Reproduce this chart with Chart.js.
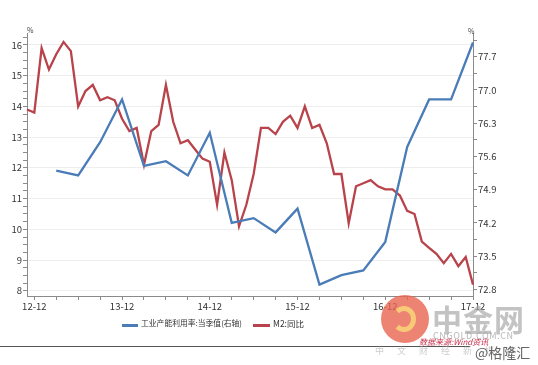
<!DOCTYPE html>
<html>
<head>
<meta charset="utf-8">
<script src="https://cdn.jsdelivr.net/npm/chart.js@4.4.1/dist/chart.umd.min.js"></script>
<style>
  body { margin: 0; background: #fff; }
  #wrap { position: relative; width: 538px; height: 365px; overflow: hidden; font-family: "Noto Sans CJK SC", "Noto Sans", sans-serif; }
  canvas { position: absolute; left: 0; top: 0; }
  .abs { position: absolute; white-space: nowrap; }
  .swatch { position: absolute; height: 2.5px; }
</style>
</head>
<body>
<div id="wrap">
  <canvas id="js--chart--1" width="538" height="365"></canvas>

  <div class="abs" style="left:27px;top:25px;font-size:7px;color:#444;">%</div>
  <div class="abs" style="left:468px;top:26px;font-size:7px;color:#444;">%</div>

  <div class="swatch" style="left:122px;top:324px;width:16px;background:#4a7cb8;"></div>
  <div class="abs" style="left:141px;top:317px;font-size:7.8px;color:#333;">工业产能利用率:当季值(右轴)</div>
  <div class="swatch" style="left:253px;top:324px;width:17px;background:#b8434a;"></div>
  <div class="abs" style="left:273px;top:317px;font-size:8.5px;color:#333;">M2:同比</div>

  <div class="abs" style="left:0;top:346px;width:470px;height:1px;background:#555;"></div>

  <div class="abs" style="left:381px;top:295px;width:48px;height:48px;border-radius:50%;background:rgba(232,100,80,0.8);"></div>
  <div class="abs" style="left:392px;top:306px;width:24px;height:26px;border-radius:50%;border:5px solid rgba(250,210,120,0.9);border-left-color:transparent;box-sizing:border-box;"></div>
  <div class="abs" style="left:432px;top:296px;font-size:30px;font-weight:bold;color:rgba(170,170,170,0.7);letter-spacing:1px;">中金网</div>
  <div class="abs" style="left:433px;top:329px;font-size:9px;color:rgba(160,160,160,0.75);letter-spacing:0.6px;">CNGOLD.COM.CN</div>
  <div class="abs" style="left:375px;top:344px;font-size:9px;color:rgba(170,170,170,0.6);letter-spacing:13px;">中文财经新媒体</div>
  <div class="abs" style="left:419px;top:336px;font-size:8px;color:#c8304a;font-style:italic;">数据来源:Wind资讯</div>
  <div class="abs" style="left:475px;top:342px;font-size:14px;color:#666;">@格隆汇</div>
</div>

<script>
// months 2012-11 .. 2017-12, label only on December
const months = [];
for (let y = 2012; y <= 2017; y++) {
    for (let m = 1; m <= 12; m++) {
        if (y === 2012 && m < 11) continue;
        months.push(String(y).slice(2) + "-" + String(m).padStart(2, "0"));
    }
}

// M2 同比 (%), 2012-11 .. 2017-12
const m2 = [
    13.9, 13.8,
    15.9, 15.2, 15.7, 16.1, 15.8, 14.0, 14.5, 14.7, 14.2, 14.3, 14.2, 13.6,
    13.2, 13.3, 12.1, 13.2, 13.4, 14.7, 13.5, 12.8, 12.9, 12.6, 12.3, 12.2,
    10.8, 12.5, 11.6, 10.1, 10.8, 11.8, 13.3, 13.3, 13.1, 13.5, 13.7, 13.3,
    14.0, 13.3, 13.4, 12.8, 11.8, 11.8, 10.2, 11.4, 11.5, 11.6, 11.4, 11.3,
    11.3, 11.1, 10.6, 10.5, 9.6, 9.4, 9.2, 8.9, 9.2, 8.8, 9.1, 8.2,
];

// 工业产能利用率 当季值 (%), 2013Q1 .. 2017Q4
const quarters = [
    "13-03", "13-06", "13-09", "13-12", "14-03", "14-06", "14-09", "14-12",
    "15-03", "15-06", "15-09", "15-12", "16-03", "16-06", "16-09", "16-12",
    "17-03", "17-06", "17-09", "17-12",
];
const capacity = [
    75.3, 75.2, 75.9, 76.8, 75.4, 75.5, 75.2, 76.1,
    74.2, 74.3, 74.0, 74.5, 72.9, 73.1, 73.2, 73.8,
    75.8, 76.8, 76.8, 78.0,
];

const leftTicks = [8, 9, 10, 11, 12, 13, 14, 15, 16];
const rightTicks = [72.8, 73.5, 74.2, 74.9, 75.6, 76.3, 77.0, 77.7];

const capacityByMonth = months.map(function (m) {
    const i = quarters.indexOf(m);
    return i >= 0 ? capacity[i] : null;
});

const blue = '#4a7cb8';
const red = '#b8434a';
const axisGray = '#8a8a8a';
const tickFont = { family: "'Noto Sans CJK SC', 'Noto Sans', sans-serif", size: 9.5 };

const data = {
    labels: months,
    datasets: [
        {
            label: "工业产能利用率:当季值(右轴)",
            data: capacityByMonth,
            yAxisID: 'y1',
            borderColor: blue,
            borderWidth: 2.3,
            pointRadius: 0,
            spanGaps: true,
            tension: 0,
        },
        {
            label: "M2:同比",
            data: m2,
            yAxisID: 'y',
            borderColor: red,
            borderWidth: 2.3,
            pointRadius: 0,
            tension: 0,
        },
    ]
};

const config = {
    type: 'line',
    data: data,
    options: {
        responsive: false,
        animation: false,
        layout: { padding: { top: 33, left: 0, right: 0, bottom: 47 } },
        plugins: { legend: { display: false }, tooltip: { enabled: false } },
        scales: {
            x: {
                offset: false,
                afterFit: function (s) { s.height = 22; },
                border: { color: axisGray, width: 1 },
                grid: {
                    drawOnChartArea: false,
                    tickLength: 4,
                    tickColor: function (ctx) {
                        return (ctx.index - 1) % 3 === 0 ? axisGray : 'transparent';
                    },
                },
                ticks: {
                    autoSkip: false,
                    maxRotation: 0,
                    padding: 1,
                    color: '#333',
                    font: tickFont,
                    callback: function (v, i) {
                        return months[i].slice(3) === "12" ? months[i] : "";
                    },
                },
            },
            y: {
                position: 'left',
                min: 7.83,
                max: 16.39,
                afterFit: function (s) { s.width = 27; },
                afterBuildTicks: function (s) {
                    const t = [];
                    for (let k = 0; k <= 33; k++) t.push({ value: 8 + k * 0.25 });
                    s.ticks = t;
                },
                border: { color: axisGray, width: 1 },
                grid: {
                    tickLength: 4,
                    tickColor: axisGray,
                    color: function (ctx) {
                        const v = ctx.tick ? ctx.tick.value : 0;
                        return leftTicks.indexOf(v) >= 0 ? '#eeeeee' : 'transparent';
                    },
                },
                ticks: {
                    autoSkip: false,
                    padding: 1,
                    color: '#333',
                    font: tickFont,
                    callback: function (v) {
                        return leftTicks.indexOf(v) >= 0 ? String(v) : "";
                    },
                },
            },
            y1: {
                position: 'right',
                min: 72.66,
                max: 78.2,
                afterFit: function (s) { s.width = 65; },
                afterBuildTicks: function (s) {
                    const t = [];
                    for (let k = 0; k <= 15; k++) t.push({ value: 72.8 + k * 0.35 });
                    s.ticks = t;
                },
                border: { color: axisGray, width: 1 },
                grid: { drawOnChartArea: false, tickLength: 4, tickColor: axisGray },
                ticks: {
                    autoSkip: false,
                    padding: 1,
                    color: '#333',
                    font: tickFont,
                    callback: function (v, i) {
                        return i % 2 === 0 ? rightTicks[i / 2].toFixed(1) : "";
                    },
                },
            },
        },
    },
};

new Chart(document.getElementById("js--chart--1"), config);
</script>
</body>
</html>
